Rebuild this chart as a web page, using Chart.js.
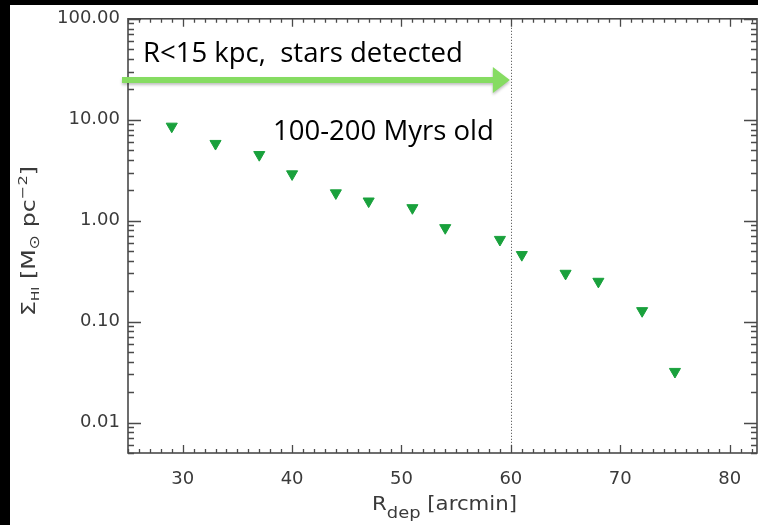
<!DOCTYPE html>
<html><head><meta charset="utf-8">
<script src="https://cdn.jsdelivr.net/npm/chart.js@4"></script>
<style>
html,body{margin:0;padding:0;background:#000;overflow:hidden;}
#c{position:absolute;left:0;top:0;}
</style></head><body>
<canvas id="c" width="758" height="525"></canvas>
<script>
// ---- data ----
const radius   = [29, 33, 37, 40, 44, 47, 51, 54, 59, 61, 65, 68, 72, 75];
const sigmaHI  = [8.6, 5.8, 4.5, 2.9, 1.88, 1.56, 1.34, 0.85, 0.65, 0.46, 0.30, 0.25, 0.128, 0.032];
const yTickValues = [0.01, 0.1, 1, 10, 100];
const yTickLabels = ['0.01', '0.10', '1.00', '10.00', '100.00'];
const xTickValues = [30, 40, 50, 60, 70, 80];
const xTickLabels = ['30', '40', '50', '60', '70', '80'];
const boundaryRadius = 60;
const noteTop = 'R<15 kpc,  stars detected';
const noteAge = '100-200 Myrs old';

const AXIS = '#4a4a4a';
const TXT = '#3a3a3a';
const TICKFONT = 'DejaVu Sans';

function fitFont(ctx, text, family, targetW) {
  ctx.font = '40px "' + family + '"';
  const w = ctx.measureText(text).width;
  return 40 * targetW / w;
}
function richWidth(ctx, parts, family) {
  let w = 0;
  parts.forEach(p => { ctx.font = p.s + 'px "' + family + '"'; w += ctx.measureText(p.t).width; });
  return w;
}
function paintRich(ctx, parts, family, x, y) {
  let cx = x;
  parts.forEach(p => {
    ctx.font = p.s + 'px "' + family + '"';
    ctx.fillText(p.t, cx, y + p.dy);
    cx += ctx.measureText(p.t).width;
  });
}

const framePlugin = {
  id: 'frame',
  beforeDraw(chart) {
    const ctx = chart.ctx;
    ctx.save();
    ctx.fillStyle = '#ffffff';
    ctx.fillRect(0, 0, chart.width, chart.height);
    ctx.fillStyle = '#000000';
    ctx.fillRect(0, 0, 10, chart.height);
    ctx.fillRect(0, 0, chart.width, 5);
    ctx.restore();
  },
  beforeDatasetsDraw(chart) {
    const ctx = chart.ctx, a = chart.chartArea;
    const xs = chart.scales.x, ys = chart.scales.y;
    ctx.save();
    // dotted boundary
    const bx = Math.round(xs.getPixelForValue(boundaryRadius)) + 0.5;
    ctx.strokeStyle = '#444';
    ctx.lineWidth = 1;
    ctx.setLineDash([1, 2]);
    ctx.beginPath(); ctx.moveTo(bx, a.top); ctx.lineTo(bx, a.bottom); ctx.stroke();
    ctx.setLineDash([]);
    // frame
    ctx.strokeStyle = AXIS;
    ctx.lineWidth = 1.6;
    ctx.strokeRect(a.left, a.top, a.right - a.left, a.bottom - a.top);
    // x tick marks, every unit, inward on bottom and top
    ctx.lineWidth = 1.3;
    ctx.beginPath();
    for (let v = Math.ceil(xs.min); v <= Math.floor(xs.max); v++) {
      const px = Math.round(xs.getPixelForValue(v)) + 0.5;
      const len = (v % 10 === 0) ? 8 : 4;
      ctx.moveTo(px, a.bottom); ctx.lineTo(px, a.bottom - len);
      ctx.moveTo(px, a.top); ctx.lineTo(px, a.top + len);
    }
    ctx.stroke();
    // y tick marks, 1..9 per decade, inward on left and right
    ctx.beginPath();
    const d0 = Math.floor(Math.log10(ys.min)), d1 = Math.ceil(Math.log10(ys.max));
    for (let d = d0; d <= d1; d++) {
      for (let m = 1; m <= 9; m++) {
        const v = m * Math.pow(10, d);
        if (v < ys.min * 0.999 || v > ys.max * 1.001) continue;
        const py = Math.round(ys.getPixelForValue(v)) + 0.5;
        const len = (m === 1) ? 13 : 6;
        ctx.moveTo(a.left, py); ctx.lineTo(a.left + len, py);
        ctx.moveTo(a.right, py); ctx.lineTo(a.right - len, py);
      }
    }
    ctx.stroke();
    // x tick labels
    ctx.fillStyle = TXT;
    ctx.font = '18px "' + TICKFONT + '"';
    ctx.textAlign = 'center';
    ctx.textBaseline = 'alphabetic';
    xTickValues.forEach((v, i) => {
      ctx.fillText(xTickLabels[i], xs.getPixelForValue(v), a.bottom + 31);
    });
    ctx.restore();
  },
  afterDraw(chart) {
    const ctx = chart.ctx, a = chart.chartArea;
    const xs = chart.scales.x;
    ctx.save();
    // green arrow
    const ay = 80;
    const tipX = xs.getPixelForValue(boundaryRadius) - 1;
    const x0 = a.left - 6;
    ctx.fillStyle = '#86dc62';
    ctx.shadowColor = 'rgba(0,0,0,0.25)';
    ctx.shadowBlur = 3; ctx.shadowOffsetY = 2;
    ctx.beginPath();
    ctx.moveTo(x0, ay - 3); ctx.lineTo(tipX - 17, ay - 3); ctx.lineTo(tipX - 17, ay - 13);
    ctx.lineTo(tipX, ay); ctx.lineTo(tipX - 17, ay + 13); ctx.lineTo(tipX - 17, ay + 3);
    ctx.lineTo(x0, ay + 3); ctx.closePath(); ctx.fill();
    ctx.shadowColor = 'transparent'; ctx.shadowBlur = 0; ctx.shadowOffsetY = 0;
    // notes
    const fs = fitFont(ctx, noteTop, 'Open Sans', 320);
    ctx.fillStyle = '#000';
    ctx.textBaseline = 'alphabetic';
    ctx.textAlign = 'left';
    ctx.font = fs + 'px "Open Sans"';
    ctx.fillText(noteTop, 143, 62);
    ctx.fillText(noteAge, 273, 140);
    // x title
    ctx.fillStyle = TXT;
    const xParts = [{t: 'R', s: 19, dy: 0}, {t: 'dep', s: 16, dy: 8}, {t: ' [arcmin]', s: 19, dy: 0}];
    const xw = richWidth(ctx, xParts, TICKFONT);
    const xsx = 145 / xw;
    ctx.save();
    ctx.translate(372, 510);
    ctx.scale(xsx, 1);
    paintRich(ctx, xParts, TICKFONT, 0, 0);
    ctx.restore();
    // y title (rotated)
    const yParts = [{t: 'Σ', s: 19, dy: 0}, {t: 'HI', s: 11, dy: 4}, {t: ' [M', s: 19, dy: 0},
                    {t: '⊙', s: 14, dy: 4}, {t: ' pc', s: 19, dy: 0}, {t: '−2', s: 13, dy: -8}, {t: ']', s: 19, dy: 0}];
    const yw = richWidth(ctx, yParts, TICKFONT);
    const ysx = 150 / yw;
    ctx.save();
    ctx.translate(35, 241);
    ctx.rotate(-Math.PI / 2);
    ctx.scale(ysx, 1);
    paintRich(ctx, yParts, TICKFONT, -yw / 2, 0);
    ctx.restore();
    ctx.restore();
  }
};

new Chart(document.getElementById('c'), {
  type: 'scatter',
  data: {
    datasets: [{
      data: radius.map((x, i) => ({x: x, y: sigmaHI[i]})),
      pointStyle: 'triangle',
      pointRotation: 180,
      pointRadius: 6.4,
      pointBackgroundColor: '#19a13c',
      pointBorderColor: '#19a13c',
      backgroundColor: '#19a13c',
      borderColor: '#19a13c',
      pointBorderWidth: 1,
      showLine: false
    }]
  },
  options: {
    responsive: false,
    animation: false,
    devicePixelRatio: 1,
    layout: {autoPadding: false, padding: {left: 0, right: 1, top: 15, bottom: 0}},
    plugins: {legend: {display: false}, tooltip: {enabled: false}},
    scales: {
      x: {
        type: 'linear', min: 25, max: 82.5,
        grid: {display: false, drawTicks: false},
        border: {display: false},
        ticks: {display: false, stepSize: 1},
        afterFit: s => { s.height = 72; }
      },
      y: {
        type: 'logarithmic', min: 0.005, max: 100,
        grid: {display: false, drawTicks: false},
        border: {display: false},
        ticks: {
          autoSkip: false, padding: 8, color: TXT, font: {family: TICKFONT, size: 18},
          callback: v => {
            const i = yTickValues.findIndex(t => Math.abs(Math.log10(v) - Math.log10(t)) < 1e-6);
            return i >= 0 ? yTickLabels[i] : '';
          }
        },
        afterFit: s => { s.width = 128; }
      }
    }
  },
  plugins: [framePlugin]
});
</script>
</body></html>
